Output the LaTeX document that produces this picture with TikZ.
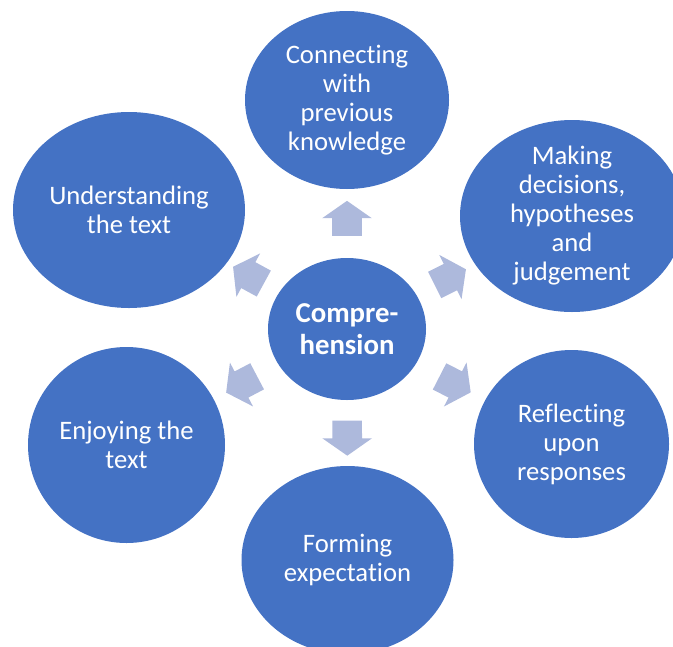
\documentclass[tikz,border=0pt]{standalone}
\usepackage{fontspec}
\setmainfont[Ligatures=NoCommon]{Carlito}
\usetikzlibrary{shapes.geometric,shapes.arrows}
\definecolor{bubbleblue}{RGB}{68,114,196}
\definecolor{arrowblue}{RGB}{173,185,220}
\tikzset{
  bubble/.style={ellipse, fill=bubbleblue, text=white, align=center, inner sep=0pt, font=\fontsize{20}{21.75}\selectfont},
  blockarrow/.style={single arrow, fill=arrowblue, inner xsep=0pt, inner ysep=10.875pt, minimum height=26.25pt, minimum width=36.75pt, single arrow head extend=7.5pt, single arrow tip angle=110}
}
\begin{document}
\begin{tikzpicture}[x=0.75pt, y=-0.75pt]
        \useasboundingbox (0, 0) rectangle (673, 646);
        \node[bubble, minimum width=118.5pt, minimum height=106.5pt, font=\fontsize{21.6}{24}\selectfont\bfseries] (c) at (347, 329) {Compre-\\hension};
        \node[bubble, minimum width=153pt, minimum height=133.5pt] (n1) at (347, 100) {Connecting\\with\\previous\\knowledge};
        \node[bubble, minimum width=168pt, minimum height=144pt, inner ysep=-8pt] (n2) at (572, 216) {Making\\decisions,\\hypotheses\\and\\judgement};
        \node[bubble, minimum width=146.25pt, minimum height=141pt] (n3) at (571.5, 444) {Reflecting\\upon\\responses};
        \node[bubble, minimum width=159pt, minimum height=141pt] (n4) at (347.5, 560) {Forming\\expectation};
        \node[bubble, minimum width=147.75pt, minimum height=147pt] (n5) at (126.5, 445) {Enjoying the\\text};
        \node[bubble, minimum width=174pt, minimum height=147pt] (n6) at (129, 210) {Understanding\\the text};
        \foreach \Target/\Name in {n1/a1, n2/a2, n3/a3, n4/a4, n5/a5, n6/a6}{
          \path (c) -- (\Target) node[midway, sloped, allow upside down, blockarrow] (\Name) {};
        }
      \end{tikzpicture}
\end{document}
